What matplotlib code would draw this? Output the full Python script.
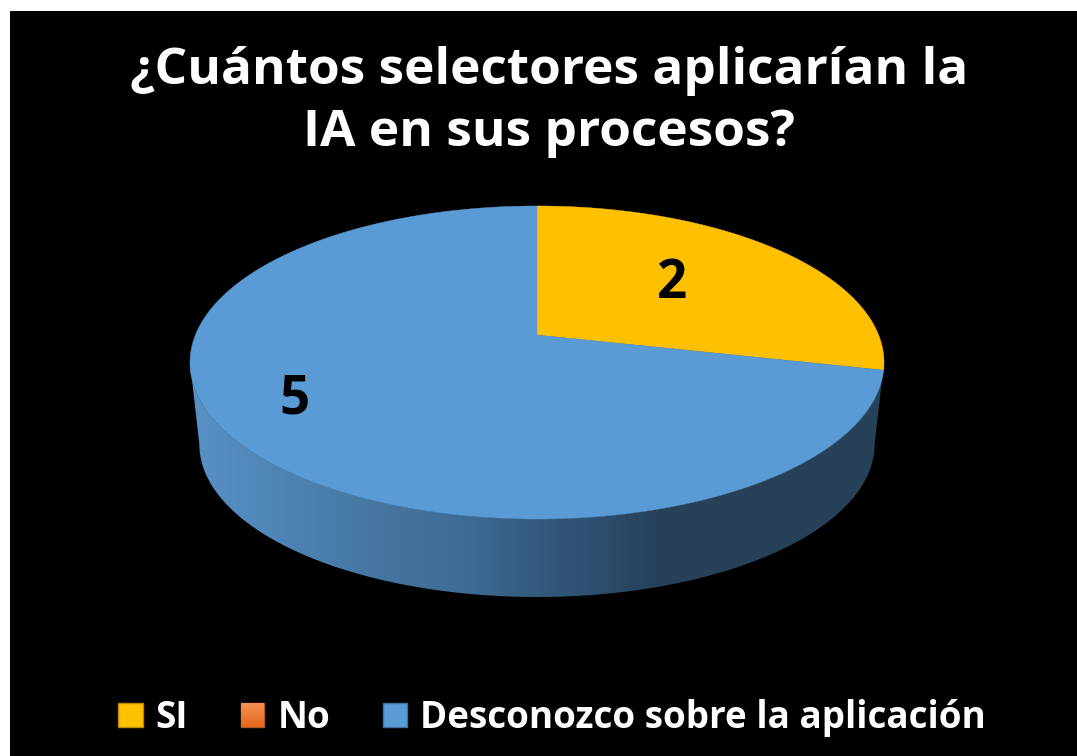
import numpy as np
import matplotlib
matplotlib.use('Agg')
import matplotlib.pyplot as plt
from matplotlib.colors import LinearSegmentedColormap
from matplotlib.patches import Polygon, Rectangle

# datos
title_text = '¿Cuántos selectores aplicarían la\nIA en sus procesos?'
categories = ['SI', 'No', 'Desconozco sobre la aplicación']
values = [2, 0, 5]
colors = ['#FFC000', '#ED7D31', '#5B9BD5']
edge_colors = ['#B88B00', '#AE5A21', '#41719C']

FONT = 'Open Sans'

# perspectiva del disco (en pixeles de la imagen)
cx, cy = 537, 335
ax_x, ax_y, k = 341.6, 151.7, 0.1757


def project(t, r=1.0):
    # t en grados, sentido horario desde arriba
    u = r * np.sin(np.radians(t))
    v = r * np.cos(np.radians(t))
    w = 1 + k * v
    return cx + ax_x * u / w, cy - ax_y * v / w


fig = plt.figure(figsize=(10.77, 7.56), dpi=100, facecolor='white')
ax = fig.add_axes([0, 0, 1, 1])
ax.add_patch(Rectangle((10, 11), 1067, 745, fc='black', ec='none', zorder=0))

# pared lateral con degradado
rim = np.linspace(100.1, 259.9, 200)
tx, ty = project(rim)
bx = cx + (tx - cx) * 0.973
by = 362.5 + (ty - 362.5) * 0.975 + 81.9
wall = Polygon(np.r_[np.c_[tx, ty], np.c_[bx, by][::-1]], closed=True, fc='none', ec='none')
ax.add_patch(wall)
wall_cmap = LinearSegmentedColormap.from_list('wall', [
    (0.00, '#5A92C6'), (0.12, '#4E86B8'), (0.28, '#44759F'), (0.40, '#3E6B94'),
    (0.50, '#345A7E'), (0.60, '#2C4C6B'), (0.67, '#264158'), (1.00, '#264158')])
grad = ax.imshow(np.linspace(0, 1, 256)[None, :], cmap=wall_cmap, aspect='auto',
                 extent=(185, 890, 610, 340), interpolation='bilinear', zorder=1)
grad.set_clip_path(wall)

# porciones
angles = np.r_[0, np.cumsum(values)] / np.sum(values) * 360
for a0, a1, col, val in zip(angles[:-1], angles[1:], colors, values):
    if val == 0:
        continue
    t = np.linspace(a0, a1, 300)
    x, y = project(t)
    ax.fill(np.r_[cx, x], np.r_[cy, y], color=col, lw=0.3, zorder=2)

# etiquetas de datos
label_pos = [(672, 283), None, (294, 398)]
for val, pos in zip(values, label_pos):
    if pos is not None:
        ax.text(pos[0], pos[1] + 1, str(val), color='black', fontsize=38, fontweight='bold',
                family=FONT, ha='center', va='center', zorder=3)

ax.text(549, 102, title_text, color='white', fontsize=37, fontweight='bold', family=FONT,
        ha='center', va='center', linespacing=1.31, zorder=3)

# leyenda
swatch_x = [118, 241, 383]
swatch_w = [25, 23, 24]
text_x = [155, 278, 420]
orange_cmap = LinearSegmentedColormap.from_list('orange', ['#F79050', '#E2691C'])
for i, name in enumerate(categories):
    swatch = Rectangle((swatch_x[i], 703), swatch_w[i], 24, fc=colors[i],
                       ec=edge_colors[i], lw=1, zorder=3)
    ax.add_patch(swatch)
    if name == 'No':
        ax.imshow(np.linspace(0, 1, 64)[:, None], cmap=orange_cmap, aspect='auto',
                  extent=(swatch_x[i], swatch_x[i] + swatch_w[i], 727, 703), zorder=3.5)
    ax.text(text_x[i], 718, name, color='white', fontsize=26.6, fontweight='bold', family=FONT,
            ha='left', va='center', zorder=4)

ax.set_xlim(0, 1077)
ax.set_ylim(756, 0)
ax.axis('off')
fig.savefig('out.png', dpi=100, facecolor='white')
